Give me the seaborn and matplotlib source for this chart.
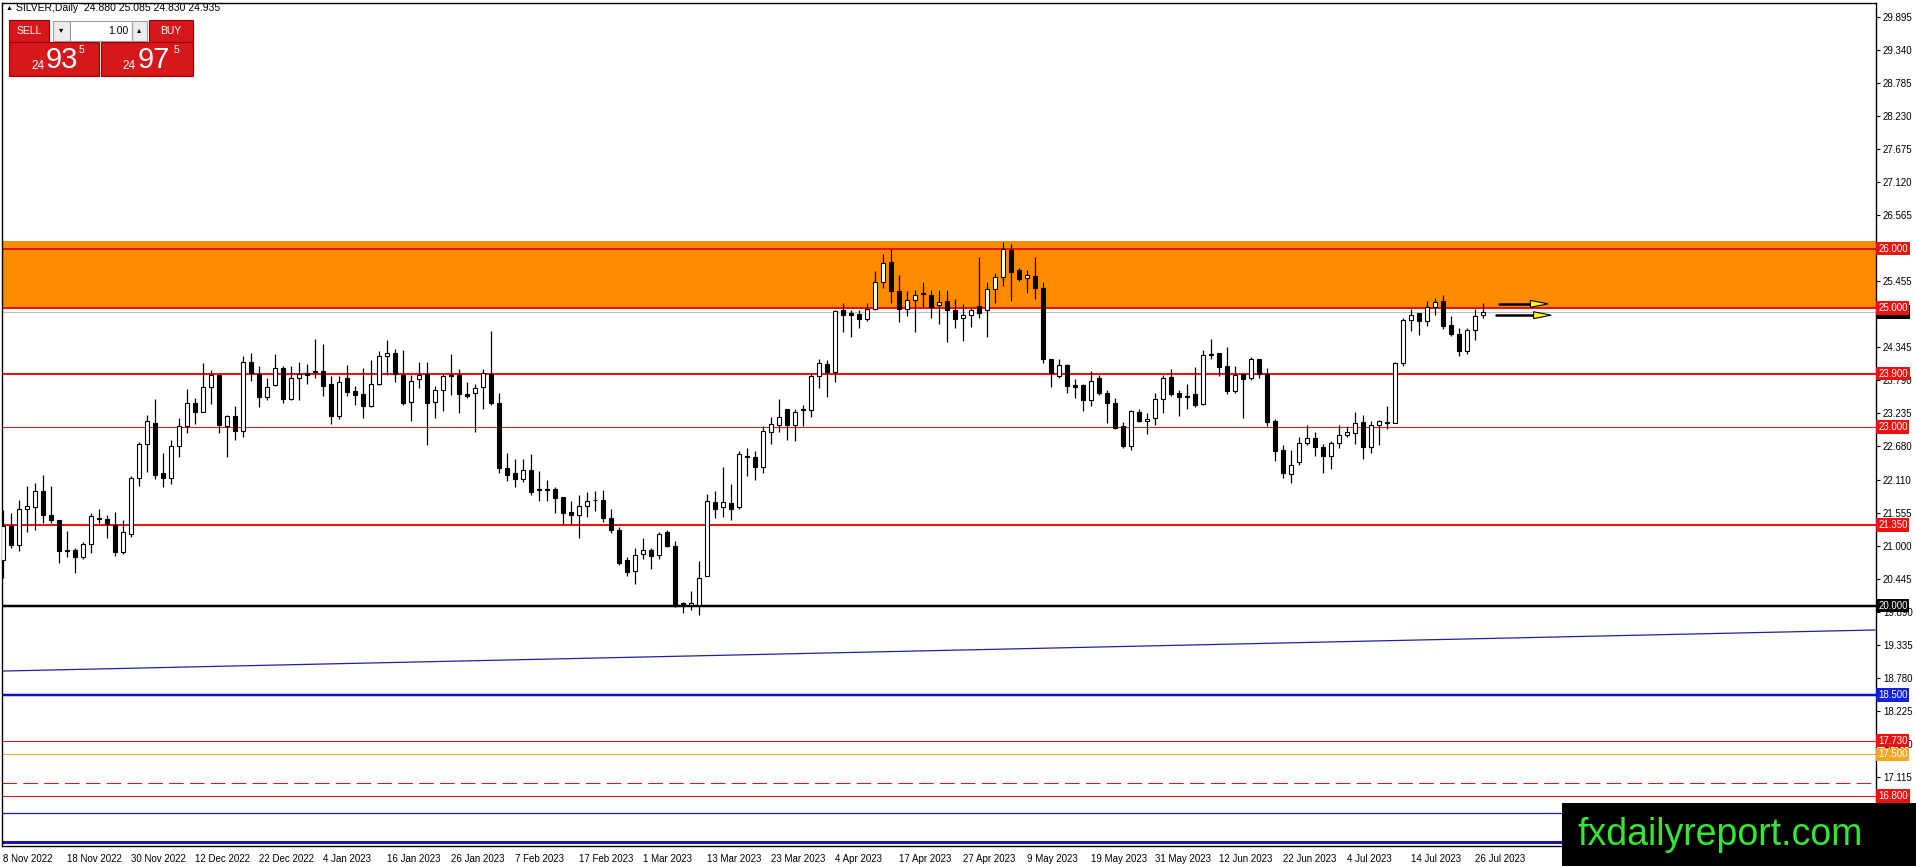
import numpy as np
import pandas as pd
import matplotlib
matplotlib.use("Agg")
import matplotlib.pyplot as plt
import matplotlib.transforms as mtransforms
from matplotlib.patches import Rectangle, Polygon
import seaborn as sns

# SILVER daily bars, 8 Nov 2022 .. end of Jul 2023
opens = [20.76, 21.33, 21.01, 21.63, 21.65, 21.93, 21.53, 21.43, 20.93, 20.93,
         20.81, 21.04, 21.48, 21.45, 21.35, 20.90, 21.21, 22.15, 22.71, 23.06,
         22.22, 22.15, 22.69, 23.01, 23.41, 23.26, 23.68, 23.87, 23.02, 23.18,
         22.94, 24.09, 23.89, 23.51, 23.70, 24.00, 23.47, 23.83, 23.91, 23.92,
         23.95, 23.72, 23.19, 23.82, 23.61, 23.55, 23.36, 23.72, 24.20, 24.25,
         23.87, 23.42, 23.80, 23.90, 23.42, 23.62, 23.87, 23.87, 23.55, 23.57,
         23.67, 23.90, 23.41, 22.32, 22.23, 22.12, 22.28, 21.95, 21.95, 21.96,
         21.83, 21.57, 21.53, 21.68, 21.78, 21.78, 21.47, 21.27, 20.76, 20.58,
         20.86, 20.94, 20.85, 21.24, 21.00, 20.04, 20.01, 20.01, 20.50, 21.74,
         21.65, 21.72, 21.65, 22.51, 22.49, 22.33, 22.92, 23.04, 23.30, 23.03,
         23.30, 23.28, 23.86, 24.06, 23.93, 24.96, 24.91, 24.90, 24.81, 24.98,
         25.43, 25.77, 25.29, 24.98, 25.13, 25.25, 25.22, 25.05, 25.12, 24.97,
         24.83, 24.88, 25.03, 24.97, 25.32, 25.53, 25.97, 25.64, 25.50, 25.54,
         25.33, 24.14, 23.86, 24.04, 23.70, 23.70, 23.46, 23.82, 23.58, 23.40,
         23.01, 22.69, 23.25, 23.11, 23.15, 23.47, 23.84, 23.58, 23.53, 23.55,
         23.38, 24.21, 24.24, 24.02, 23.60, 23.89, 23.82, 24.14, 23.90, 23.10,
         22.61, 22.21, 22.42, 22.74, 22.81, 22.66, 22.52, 22.74, 22.87, 22.90,
         23.08, 22.67, 23.03, 23.07, 23.07, 24.07, 24.80, 24.91, 24.79, 25.01,
         25.11, 24.71, 24.57, 24.28, 24.63, 24.88]
highs = [21.61, 21.55, 21.78, 22.01, 22.06, 22.19, 22.01, 21.44, 21.25, 20.96,
         21.07, 21.55, 21.63, 21.52, 21.58, 21.43, 22.17, 22.75, 23.20, 23.47,
         22.56, 22.78, 23.16, 23.64, 23.49, 24.08, 23.96, 23.88, 23.20, 23.35,
         24.19, 24.24, 24.03, 23.83, 24.23, 24.03, 24.02, 24.09, 24.06, 24.48,
         24.39, 23.86, 23.86, 24.04, 23.69, 23.99, 24.12, 24.27, 24.46, 24.31,
         24.30, 23.88, 24.10, 24.10, 23.69, 23.89, 24.23, 23.97, 23.75, 23.73,
         23.97, 24.62, 23.57, 22.56, 22.47, 22.47, 22.54, 22.27, 22.11, 22.00,
         21.83, 21.76, 21.86, 21.91, 21.92, 21.94, 21.63, 21.32, 20.82, 20.96,
         21.13, 20.97, 21.23, 21.27, 21.09, 20.06, 20.25, 20.75, 21.87, 21.93,
         22.33, 22.04, 22.59, 22.65, 22.60, 23.02, 23.17, 23.47, 23.31, 23.31,
         23.37, 23.91, 24.14, 24.13, 24.97, 25.08, 24.97, 24.97, 25.08, 25.62,
         25.91, 26.00, 25.55, 25.29, 25.30, 25.44, 25.31, 25.30, 25.30, 25.15,
         25.07, 25.00, 25.85, 25.44, 25.59, 26.11, 26.08, 25.68, 25.64, 25.86,
         25.43, 24.15, 24.15, 24.06, 23.80, 23.72, 23.95, 23.87, 23.62, 23.48,
         23.09, 23.29, 23.31, 23.24, 23.57, 23.87, 23.97, 23.63, 23.72, 24.01,
         24.29, 24.48, 24.25, 24.34, 24.02, 23.90, 24.17, 24.15, 23.99, 23.13,
         22.70, 22.62, 22.84, 23.03, 22.92, 22.71, 22.77, 23.03, 23.02, 23.25,
         23.21, 23.10, 23.12, 23.35, 24.10, 24.83, 24.98, 24.92, 25.12, 25.17,
         25.22, 24.87, 24.66, 24.67, 24.98, 25.085]
lows = [20.46, 20.96, 20.92, 21.24, 21.27, 21.38, 21.38, 20.72, 20.81, 20.55,
        20.79, 20.88, 21.38, 21.13, 20.84, 20.87, 21.16, 22.01, 22.25, 22.13,
        22.00, 22.05, 22.50, 22.90, 23.05, 23.25, 23.38, 22.90, 22.50, 22.79,
        22.84, 23.78, 23.33, 23.45, 23.69, 23.41, 23.45, 23.46, 23.73, 23.83,
        23.53, 23.05, 23.14, 23.53, 23.37, 23.16, 23.34, 23.71, 23.87, 23.76,
        23.37, 23.11, 23.66, 22.70, 23.16, 23.27, 23.54, 23.24, 23.48, 22.92,
        23.30, 23.37, 22.23, 22.10, 22.00, 22.08, 21.86, 21.75, 21.75, 21.56,
        21.37, 21.37, 21.13, 21.49, 21.59, 21.41, 21.22, 20.68, 20.50, 20.37,
        20.79, 20.62, 20.79, 20.99, 19.98, 19.87, 19.92, 19.85, 20.49, 21.47,
        21.49, 21.44, 21.62, 22.18, 22.11, 22.22, 22.71, 22.92, 22.79, 22.77,
        23.01, 23.17, 23.65, 23.51, 23.76, 24.59, 24.52, 24.66, 24.79, 24.97,
        25.33, 25.09, 24.76, 24.87, 24.59, 25.01, 24.84, 24.73, 24.43, 24.66,
        24.45, 24.68, 24.84, 24.52, 25.08, 25.37, 25.11, 25.45, 25.26, 25.16,
        24.08, 23.68, 23.82, 23.58, 23.48, 23.27, 23.35, 23.54, 23.06, 22.97,
        22.65, 22.61, 23.09, 22.88, 23.03, 23.23, 23.53, 23.19, 23.30, 23.34,
        23.37, 24.14, 23.85, 23.55, 23.58, 23.16, 23.79, 23.82, 23.01, 22.43,
        22.14, 22.06, 22.36, 22.70, 22.51, 22.23, 22.29, 22.64, 22.83, 22.71,
        22.46, 22.57, 22.70, 22.97, 23.06, 24.03, 24.62, 24.55, 24.70, 24.89,
        24.65, 24.53, 24.20, 24.23, 24.46, 24.83]
closes = [21.33, 21.01, 21.63, 21.67, 21.93, 21.53, 21.43, 20.92, 20.91, 20.81,
          21.04, 21.50, 21.46, 21.37, 20.90, 21.23, 22.15, 22.71, 23.11, 22.20,
          22.15, 22.69, 23.01, 23.41, 23.26, 23.67, 23.87, 23.04, 23.18, 22.94,
          24.09, 23.91, 23.51, 23.67, 24.00, 23.47, 23.83, 23.90, 23.87, 23.94,
          23.69, 23.19, 23.75, 23.59, 23.54, 23.36, 23.72, 24.20, 24.25, 23.89,
          23.41, 23.78, 23.87, 23.41, 23.62, 23.86, 23.85, 23.56, 23.53, 23.66,
          23.91, 23.40, 22.31, 22.20, 22.12, 22.28, 21.91, 21.94, 21.94, 21.80,
          21.56, 21.52, 21.68, 21.76, 21.77, 21.47, 21.27, 20.71, 20.57, 20.85,
          20.94, 20.84, 21.21, 21.00, 20.00, 20.02, 20.04, 20.47, 21.75, 21.63,
          21.74, 21.63, 22.54, 22.49, 22.33, 22.93, 23.05, 23.17, 23.03, 23.26,
          23.28, 23.86, 24.07, 23.93, 24.95, 24.89, 24.89, 24.81, 24.98, 25.43,
          25.76, 25.29, 24.98, 25.13, 25.22, 25.23, 25.01, 25.10, 24.97, 24.81,
          24.88, 24.97, 24.92, 25.32, 25.52, 25.99, 25.60, 25.49, 25.55, 25.33,
          24.14, 23.91, 24.04, 23.69, 23.68, 23.45, 23.78, 23.57, 23.40, 22.99,
          22.68, 23.27, 23.11, 23.14, 23.47, 23.83, 23.55, 23.51, 23.51, 23.37,
          24.21, 24.23, 24.01, 23.61, 23.87, 23.81, 24.14, 23.89, 23.09, 22.60,
          22.22, 22.37, 22.74, 22.81, 22.66, 22.52, 22.73, 22.86, 22.91, 23.07,
          22.67, 23.03, 23.10, 23.08, 24.07, 24.80, 24.89, 24.79, 25.01, 25.10,
          24.70, 24.57, 24.28, 24.63, 24.87, 24.935]

date_labels = ["8 Nov 2022", "18 Nov 2022", "30 Nov 2022", "12 Dec 2022", "22 Dec 2022",
               "4 Jan 2023", "16 Jan 2023", "26 Jan 2023", "7 Feb 2023", "17 Feb 2023",
               "1 Mar 2023", "13 Mar 2023", "23 Mar 2023", "4 Apr 2023", "17 Apr 2023",
               "27 Apr 2023", "9 May 2023", "19 May 2023", "31 May 2023", "12 Jun 2023",
               "22 Jun 2023", "4 Jul 2023", "14 Jul 2023", "26 Jul 2023"]
bars_per_label = 8

price_ticks = [29.895, 29.340, 28.785, 28.230, 27.675, 27.120, 26.565, 26.010, 25.455,
               24.900, 24.345, 23.790, 23.235, 22.680, 22.110, 21.555, 21.000, 20.445,
               19.890, 19.335, 18.780, 18.225, 17.670, 17.115, 16.560]
# scale labels fully hidden behind the price tags in the terminal
hidden_ticks = [26.010, 24.900, 16.560]

# horizontal levels: price, colour, width (px)
level_prices = [26.0, 25.0, 23.9, 23.0, 21.35, 20.0, 18.5, 17.73, 17.5, 16.8]
level_colors = ["#EE1111", "#EE1111", "#EE1111", "#EE1111", "#EE1111", "black",
                "#0A14C8", "#EE1111", "#F5A623", "#EE1111"]
level_widths = [2, 2, 2, 1, 2, 2.5, 2.5, 1, 1, 1]
level_tags = ["26.000", "25.000", "23.900", "23.000", "21.350", "20.000",
              "18.500", "17.730", "17.500", "16.800"]
tag_colors = ["#EE1111", "#EE1111", "#EE1111", "#EE1111", "#EE1111", "black",
              "#1020E0", "#EE1111", "#F5A623", "#EE1111"]

zone_low, zone_high = 25.0, 26.126
last_price = 24.935
dashed_level = 17.02
navy_levels = [16.52, 16.03]
trend_x = [0, 234]
trend_y = [18.90, 19.59]

# arrow objects right of the last bar
arrow_start = [187.0, 186.6]
arrow_tip = [193.1, 193.5]
arrow_price = [25.07, 24.88]

# ---------------------------------------------------------------------------
W, H = 1916, 866
sns.set_theme(style="white")
plt.rcParams["font.family"] = ["Liberation Sans", "DejaVu Sans"]

fig = plt.figure(figsize=(W / 100, H / 100), dpi=100)
fig.patch.set_facecolor("white")
ax = fig.add_axes([2 / W, (H - 846) / H, (1876 - 2) / W, (846 - 3) / H])
ax.set_facecolor("white")

df = pd.DataFrame({"o": opens, "h": highs, "l": lows, "c": closes})
df["bar"] = np.arange(len(df))
up = df["c"] >= df["o"]
body_lo = np.minimum(df["o"], df["c"])
body_h = np.maximum((df["c"] - df["o"]).abs(), 0.012)

# zone + levels
ax.axhspan(zone_low, zone_high, color="#FF8C00", lw=0, zorder=1)
ax.axhline(last_price, color="#C0C0C0", lw=0.8, zorder=2)
for p, col, w in zip(level_prices, level_colors, level_widths):
    ax.axhline(p, color=col, lw=w * 0.72, zorder=2)
ax.axhline(dashed_level, color="#EE1111", lw=0.75, ls=(0, (14, 6)), zorder=2)
ax.axhline(navy_levels[0], color="#1A1A9A", lw=0.9, zorder=2)
ax.axhline(navy_levels[1], color="#1A1A9A", lw=2.2, zorder=2)
sns.lineplot(x=trend_x, y=trend_y, ax=ax, color="#2020A0", lw=0.9, zorder=2)

# candles
ax.vlines(df["bar"], df["l"], df["h"], color="black", lw=0.9, zorder=5)
ax.bar(df["bar"][up], body_h[up], bottom=body_lo[up], width=0.55,
       color="white", edgecolor="black", lw=0.8, zorder=6)
ax.bar(df["bar"][~up], body_h[~up], bottom=body_lo[~up], width=0.55,
       color="black", edgecolor="black", lw=0.8, zorder=6)

# arrows
for x0, x1, p in zip(arrow_start, arrow_tip, arrow_price):
    ax.plot([x0, x1 - 2.1], [p, p], color="black", lw=1.8, zorder=7)
    ax.add_patch(Polygon([(x1 - 2.2, p + 0.058), (x1 - 2.2, p - 0.058), (x1, p)],
                         closed=True, fc="#FFFF00", ec="black", lw=0.8, zorder=8))

ax.set_xlim(-0.16, 234.1)
ax.set_ylim(15.96, 30.126)

# axes look
for s in ax.spines.values():
    s.set_color("black")
    s.set_linewidth(1)
ax.yaxis.tick_right()
ax.set_yticks(price_ticks, ["" if v in hidden_ticks else "%.3f" % v for v in price_ticks])
ax.tick_params(axis="y", direction="out", length=3, width=0.8, colors="black",
               labelsize=7, pad=2, left=False, right=True)
xt = np.arange(len(date_labels)) * bars_per_label
ax.set_xticks(xt, date_labels)
ax.tick_params(axis="x", direction="out", length=4, width=0.8, colors="black",
               labelsize=7, pad=2)
for lab in ax.get_xticklabels():
    lab.set_ha("left")
ax.set_xlabel("")
ax.set_ylabel("")
ax.grid(False)

# price tags on the right scale
trans = mtransforms.blended_transform_factory(ax.transAxes, ax.transData)
ax.text(1.0012, last_price, "24.935", transform=trans, fontsize=7, color="white",
        va="center", ha="left", zorder=19, clip_on=False,
        bbox=dict(boxstyle="square,pad=0.18", fc="black", ec="none"))
for p, t, c in zip(level_prices, level_tags, tag_colors):
    ax.text(1.0012, p, t, transform=trans, fontsize=7, color="white",
            va="center", ha="left", zorder=20, clip_on=False,
            bbox=dict(boxstyle="square,pad=0.18", fc=c, ec="none"))


# figure-level overlays (pixel coords, origin top-left)
def box(x0, y0, x1, y1, fc, ec="none", lw=0.8):
    fig.add_artist(Rectangle((x0 / W, 1 - y1 / H), (x1 - x0) / W, (y1 - y0) / H,
                             transform=fig.transFigure, fc=fc, ec=ec, lw=lw, zorder=30))


def label(x, y, s, **kw):
    fig.text(x / W, 1 - y / H, s, zorder=31, **kw)


label(6, 8, "\u25b2", fontsize=5, va="center", ha="left", color="black")
label(16, 8, "SILVER,Daily  24.880 25.085 24.830 24.935", fontsize=7.5,
      va="center", ha="left", color="black")

# one-click trading panel
red = "#D4181C"
box(9, 20, 49, 42, red, ec="#9A0000")
label(29, 31, "SELL", fontsize=7.5, color="white", ha="center", va="center")
box(53, 21, 70, 41, "#ECECEC", ec="#A0A0A0")
label(61.5, 31, "\u25be", fontsize=6, color="black", ha="center", va="center")
box(70, 21, 132, 41, "white", ec="#A0A0A0")
label(128, 31, "1.00", fontsize=7.5, color="black", ha="right", va="center")
box(132, 21, 147, 41, "#ECECEC", ec="#A0A0A0")
label(139.5, 31, "\u25b4", fontsize=6, color="black", ha="center", va="center")
box(149, 20, 193, 42, red, ec="#9A0000")
label(171, 31, "BUY", fontsize=7.5, color="white", ha="center", va="center")
box(9, 42, 99, 76, red, ec="#9A0000")
box(101, 42, 193, 76, red, ec="#9A0000")
label(31, 66, "24", fontsize=8.5, color="white", ha="left", va="center")
label(46, 60, "93", fontsize=21, color="white", ha="left", va="center")
label(79, 50, "5", fontsize=7.5, color="white", ha="left", va="center")
label(122, 66, "24", fontsize=8.5, color="white", ha="left", va="center")
label(138, 60, "97", fontsize=21, color="white", ha="left", va="center")
label(174, 50, "5", fontsize=7.5, color="white", ha="left", va="center")

# watermark
box(1562, 803, W, H, "black")
label(1720, 835, "fxdailyreport.com", fontsize=27, color="#35E635",
      ha="center", va="center")

fig.savefig("out.png", dpi=100, facecolor="white")
